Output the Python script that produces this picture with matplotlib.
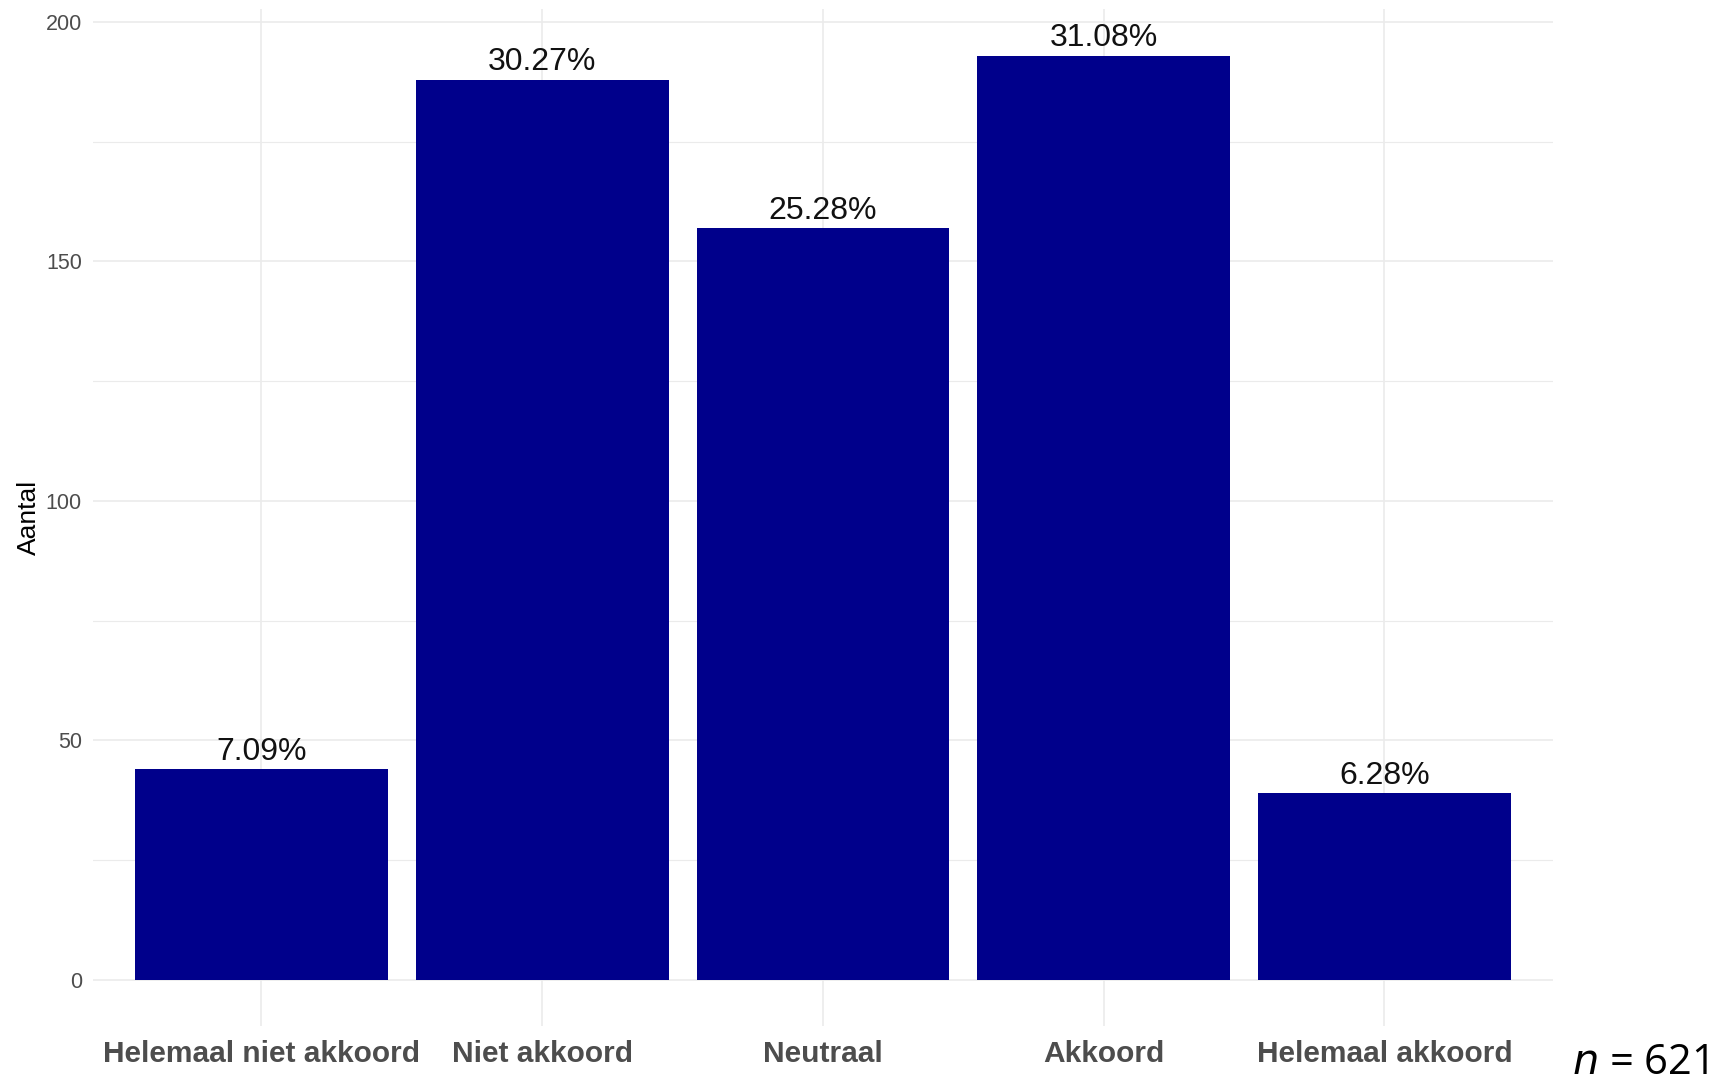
import matplotlib
matplotlib.use("Agg")
import matplotlib.pyplot as plt
from matplotlib.ticker import MultipleLocator

categories = ["Helemaal niet akkoord", "Niet akkoord", "Neutraal", "Akkoord", "Helemaal akkoord"]
counts = [44, 188, 157, 193, 39]
n_total = sum(counts)
percent_labels = [f"{c / n_total * 100:.2f}%" for c in counts]

plt.rcParams["font.family"] = ["Liberation Sans", "DejaVu Sans"]

fig = plt.figure(figsize=(17.12, 10.87), dpi=100)
ax = fig.add_axes([0.0543, 0.0561, 0.8528, 0.9353])

x = range(len(categories))
ax.bar(x, counts, width=0.9, color="#00008B", zorder=2)

for xi, c, lab in zip(x, counts, percent_labels):
    ax.annotate(lab, (xi, c), xytext=(0, 1.5), textcoords="offset points",
                ha="center", va="bottom", fontsize=23, color="#111111")

ax.set_xlim(-0.6, len(categories) - 0.4)
ax.set_ylim(-0.05 * max(counts), max(counts) * 1.05)
ax.set_xticks(list(x))
ax.set_xticklabels(categories, fontsize=21.5, fontweight="bold", color="#4D4D4D")
ax.yaxis.set_major_locator(MultipleLocator(50))
ax.yaxis.set_minor_locator(MultipleLocator(25))
ax.tick_params(axis="y", labelsize=15.5, labelcolor="#4D4D4D", length=0, pad=8)
ax.tick_params(axis="y", which="minor", length=0)
ax.tick_params(axis="x", length=0, pad=10)
ax.grid(True, which="major", color="#EBEBEB", linewidth=1.2, zorder=0)
ax.grid(True, which="minor", axis="y", color="#EBEBEB", linewidth=0.8, zorder=0)
ax.set_axisbelow(True)
for s in ax.spines.values():
    s.set_visible(False)
ax.set_ylabel("Aantal", fontsize=19, color="black", labelpad=3)

fig.text(0.9975, 0.003, r"$\it{n}$ = " + str(n_total), ha="right", va="bottom",
         fontsize=30, family=["Open Sans", "DejaVu Sans"])

plt.savefig("out.png", dpi=100)
